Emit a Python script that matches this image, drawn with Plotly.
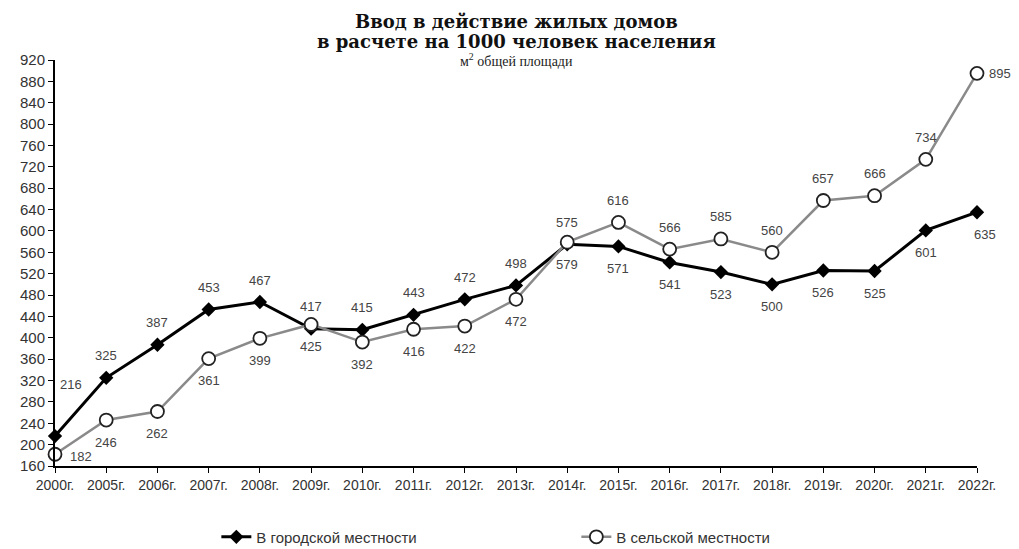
import plotly.graph_objects as go

years = ["2000г.", "2005г.", "2006г.", "2007г.", "2008г.", "2009г.", "2010г.", "2011г.", "2012г.",
         "2013г.", "2014г.", "2015г.", "2016г.", "2017г.", "2018г.", "2019г.", "2020г.", "2021г.", "2022г."]
urban = [216, 325, 387, 453, 467, 417, 415, 443, 472, 498, 575, 571, 541, 523, 500, 526, 525, 601, 635]
rural = [182, 246, 262, 361, 399, 425, 392, 416, 422, 472, 579, 616, 566, 585, 560, 657, 666, 734, 895]
y_ticks = list(range(160, 921, 40))

# label offsets (pixels)
urban_dx = [16] + [0] * 17 + [8]
urban_dy = [52] + [22] * 10 + [-22] * 8
rural_dx = [26] + [0] * 17 + [23]
rural_dy = [-2] + [-22] * 10 + [22] * 7 + [0]

fig = go.Figure()
fig.add_trace(go.Scatter(
    x=list(range(len(years))), y=urban, name="В городской местности", mode="lines+markers",
    line=dict(color="black", width=3),
    marker=dict(symbol="diamond", size=11, color="black"),
    cliponaxis=False))
fig.add_trace(go.Scatter(
    x=list(range(len(years))), y=rural, name="В сельской местности", mode="lines+markers",
    line=dict(color="#8a8a8a", width=2.5),
    marker=dict(symbol="circle", size=13, color="white", line=dict(color="#222", width=1.8)),
    cliponaxis=False))

lab_font = dict(family="Liberation Sans, Arial", size=13, color="#444")
for i, v in enumerate(urban):
    fig.add_annotation(x=i, y=v, text=str(v), showarrow=False, xshift=urban_dx[i], yshift=urban_dy[i], font=lab_font)
for i, v in enumerate(rural):
    fig.add_annotation(x=i, y=v, text=str(v), showarrow=False, xshift=rural_dx[i], yshift=rural_dy[i], font=lab_font)

title_font = dict(family="DejaVu Serif", size=18, color="#111")
fig.add_annotation(xref="paper", yref="paper", x=0.5, y=1.0, yshift=39, text="<b>Ввод в действие жилых домов</b>",
                   showarrow=False, font=title_font, yanchor="middle")
fig.add_annotation(xref="paper", yref="paper", x=0.5, y=1.0, yshift=19, text="<b>в расчете на 1000 человек населения</b>",
                   showarrow=False, font=title_font, yanchor="middle")
fig.add_annotation(xref="paper", yref="paper", x=0.5, y=1.0, yshift=0, text="м<sup>2</sup> общей площади",
                   showarrow=False, font=dict(family="Liberation Serif, Times New Roman", size=14, color="#222"),
                   yanchor="middle")

fig.update_layout(
    width=1011, height=541,
    margin=dict(l=47, r=42, t=52, b=83, autoexpand=False),
    paper_bgcolor="white", plot_bgcolor="white",
    showlegend=True,
    legend=dict(orientation="h", x=0.175, y=-0.175, xanchor="left", yanchor="middle",
                entrywidth=315, entrywidthmode="pixels",
                font=dict(family="Liberation Sans, Arial", size=15, color="#333")),
    xaxis=dict(range=[0, 18], tickmode="array", tickvals=list(range(len(years))), ticktext=years,
               showgrid=False, zeroline=False, showline=True, linecolor="black", linewidth=2,
               ticks="outside", ticklen=5, tickcolor="black", automargin=False,
               tickfont=dict(family="Liberation Sans, Arial", size=14, color="#333")),
    yaxis=dict(range=[160, 920], tickvals=y_ticks, showgrid=False, zeroline=False,
               showline=True, linecolor="black", linewidth=2, automargin=False,
               ticks="outside", ticklen=5, tickcolor="black",
               tickfont=dict(family="Liberation Sans, Arial", size=15, color="#333")),
)

fig.write_html("out.html")
